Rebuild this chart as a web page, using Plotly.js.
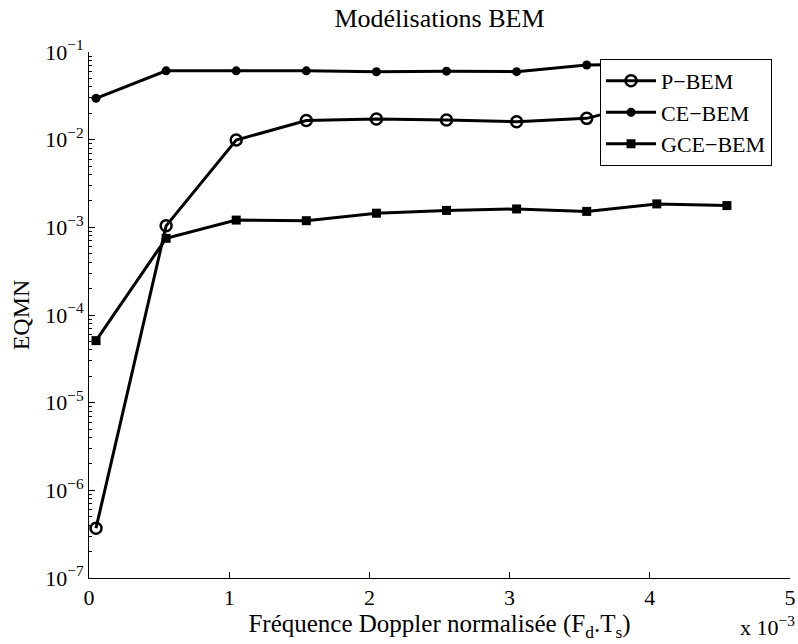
<!DOCTYPE html>
<html>
<head>
<meta charset="utf-8">
<script src="https://cdn.plot.ly/plotly-3.0.1.min.js"></script>
<style>html,body{margin:0;padding:0;background:#fff;}#chart{width:798px;height:644px;}</style>
</head>
<body>
<div id="chart"></div>
<script>
// x in units of 1e-3 (normalised Doppler frequency Fd.Ts)
const xPBEM = [0.05, 0.55, 1.05, 1.55, 2.05, 2.55, 3.05, 3.55, 4.05, 4.55];
const yPBEM = [3.7e-7, 1.04e-3, 9.9e-3, 1.65e-2, 1.72e-2, 1.68e-2, 1.6e-2, 1.75e-2, 2.8e-2, 3.0e-2];
const xCEBEM = [0.05, 0.55, 1.05, 1.55, 2.05, 2.55, 3.05, 3.55, 4.05, 4.55];
const yCEBEM = [2.96e-2, 6.1e-2, 6.1e-2, 6.1e-2, 5.95e-2, 6.05e-2, 5.97e-2, 7.1e-2, 7.3e-2, 7.3e-2];
const xGCEBEM = [0.05, 0.55, 1.05, 1.55, 2.05, 2.55, 3.05, 3.55, 4.05, 4.55];
const yGCEBEM = [5.1e-5, 7.5e-4, 1.21e-3, 1.19e-3, 1.45e-3, 1.56e-3, 1.62e-3, 1.52e-3, 1.85e-3, 1.77e-3];

const seriesNames = ['P\u2212BEM', 'CE\u2212BEM', 'GCE\u2212BEM'];
const xTickVals = [0, 1, 2, 3, 4, 5];
const xTickText = ['0', '1', '2', '3', '4', '5'];
const yTickVals = [1e-7, 1e-6, 1e-5, 1e-4, 1e-3, 1e-2, 1e-1];
const yTickText = ['10<sup>\u22127</sup>', '10<sup>\u22126</sup>', '10<sup>\u22125</sup>', '10<sup>\u22124</sup>', '10<sup>\u22123</sup>', '10<sup>\u22122</sup>', '10<sup>\u22121</sup>'];

const FONT = 'Liberation Serif, Times New Roman, serif';
const lineStyle = {color: 'black', width: 3};

const traces = [
  {x: xPBEM, y: yPBEM, name: seriesNames[0], mode: 'lines+markers', line: lineStyle,
   marker: {symbol: 'circle-open', size: 11, color: 'black', line: {width: 2.5, color: 'black'}}},
  {x: xCEBEM, y: yCEBEM, name: seriesNames[1], mode: 'lines+markers', line: lineStyle,
   marker: {symbol: 'circle', size: 9, color: 'black'}},
  {x: xGCEBEM, y: yGCEBEM, name: seriesNames[2], mode: 'lines+markers', line: lineStyle,
   marker: {symbol: 'square', size: 9, color: 'black'}}
];

const layout = {
  width: 798, height: 644,
  margin: {l: 89, r: 8, t: 52, b: 66, pad: 0},
  paper_bgcolor: 'white', plot_bgcolor: 'white',
  font: {family: FONT, size: 22, color: 'black'},
  title: {text: 'Modélisations BEM', font: {family: FONT, size: 26, color: 'black'},
          x: 0.5, xref: 'paper', y: 0.972, yanchor: 'middle'},
  showlegend: true,
  legend: {x: 0.729, y: 0.987, xanchor: 'left', yanchor: 'top',
           bgcolor: 'white', bordercolor: 'black', borderwidth: 1,
           font: {family: FONT, size: 22, color: 'black'},
           tracegroupgap: 0, itemwidth: 50},
  xaxis: {range: [0, 5], tickmode: 'array', tickvals: xTickVals, ticktext: xTickText,
          ticks: 'inside', ticklen: 6, tickwidth: 1, tickcolor: 'black',
          showline: true, linecolor: 'black', linewidth: 1, mirror: false,
          showgrid: false, zeroline: false,
          tickfont: {family: FONT, size: 22, color: 'black'},
          title: {text: 'Fréquence Doppler normalisée (F<sub>d</sub>.T<sub>s</sub>)',
                  font: {family: FONT, size: 25, color: 'black'}, standoff: 0}},
  yaxis: {type: 'log', range: [-7, -1], tickmode: 'array', tickvals: yTickVals, ticktext: yTickText,
          ticks: 'inside', ticklen: 6, tickwidth: 1, tickcolor: 'black',
          minor: {ticks: 'inside', ticklen: 3, tickcolor: 'black', dtick: 'D1', showgrid: false},
          showline: true, linecolor: 'black', linewidth: 1, mirror: false,
          showgrid: false, zeroline: false,
          tickfont: {family: FONT, size: 22, color: 'black'},
          title: {text: 'EQMN', font: {family: FONT, size: 24, color: 'black'}, standoff: 8}},
  annotations: [
    {text: 'x 10<sup>\u22123</sup>', xref: 'paper', yref: 'paper', x: 1.01, y: -0.122,
     xanchor: 'right', yanchor: 'bottom', showarrow: false,
     font: {family: FONT, size: 22, color: 'black'}}
  ]
};

Plotly.newPlot('chart', traces, layout, {displayModeBar: false, staticPlot: true});
</script>
</body>
</html>
